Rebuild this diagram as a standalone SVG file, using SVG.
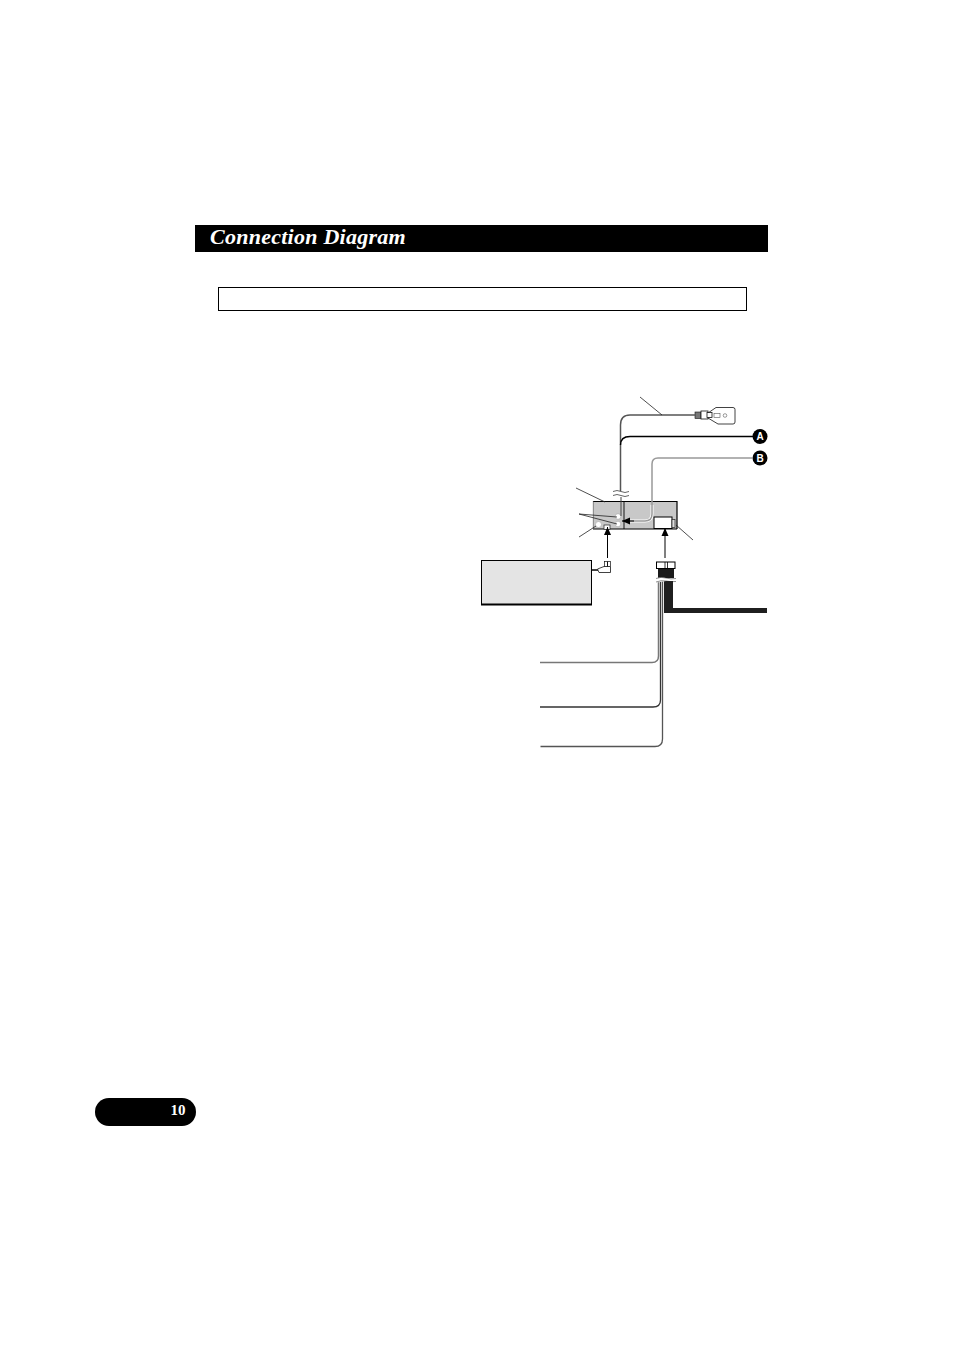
<svg xmlns="http://www.w3.org/2000/svg" width="954" height="1351" viewBox="0 0 954 1351">
<style>
.lead{fill:none;stroke:#222;stroke-width:.8}
.wire{fill:none;stroke-linecap:butt}
.badge{font:bold 10px "Liberation Sans",Arial,sans-serif;fill:#fff;text-anchor:middle}
.ln{stroke:#111;fill:#fff;stroke-width:.8}
</style>
<defs><marker id="ah" markerUnits="userSpaceOnUse" markerWidth="9" markerHeight="8" refX="8" refY="4" orient="auto"><path d="M0 .5L8 4L0 7.500Z" fill="#000"/></marker></defs>
<rect width="954" height="1351" fill="#fff"/>
<g id="header"><rect x="195" y="225" width="573" height="27" fill="#000"/>
<text x="210" y="244" font-family="Liberation Serif,serif" font-size="22" font-weight="bold" font-style="italic" letter-spacing=".25" fill="#fff">Connection Diagram</text></g>
<g id="notice"><rect x="218.500" y="287.500" width="528" height="23" fill="#fff" stroke="#000" stroke-width="1"/></g>
<g id="page"><rect x="95" y="1098" width="101" height="28" rx="14" fill="#000"/>
<text x="178" y="1115" font-family="Liberation Serif,serif" font-size="15" font-weight="bold" text-anchor="middle" fill="#fff">10</text></g>
<g id="head-unit">
<rect x="593" y="501" width="84" height="28" fill="#c8c8c8"/>
<path d="M593 501.500H677V529M593 529H677" fill="none" stroke="#000" stroke-width="1.200"/>
<path d="M593.300 501V529" stroke="#555" stroke-width=".6"/>
<path d="M624 501V529" stroke="#000" stroke-width=".9"/>
<rect x="654" y="517" width="18" height="11.500" fill="#fff" stroke="#000" stroke-width="1"/>
<rect x="672" y="519.500" width="3" height="8" fill="#ddd" stroke="#222" stroke-width=".7"/>
<circle cx="618" cy="516.500" r="2.800" fill="#fff" stroke="#999" stroke-width=".5"/>
<circle cx="618" cy="524" r="2.800" fill="#fff" stroke="#999" stroke-width=".5"/>
<circle cx="598.500" cy="524.500" r="3" fill="#fff" stroke="#999" stroke-width=".5"/>
<rect x="604" y="525" width="6" height="4.500" fill="#fff" stroke="#222" stroke-width=".7"/>
</g>
<g id="usb-connector">
<path d="M708 413L716 407.500H733Q735 407.500 735 409.500V422Q735 424 733 424H718L708 418Z" class="ln"/>
<rect x="695" y="412" width="6" height="6.500" fill="#777" stroke="#111" stroke-width=".6"/>
<rect x="701" y="411" width="7" height="8" class="ln"/>
<rect x="707" y="412.500" width="5" height="5" class="ln"/>
<rect x="714" y="413.500" width="6" height="4" fill="#fff" stroke="#555" stroke-width=".6"/>
<circle cx="725" cy="415.500" r="1.800" fill="#fff" stroke="#555" stroke-width=".6"/>
</g>
<g id="badge-a"><circle cx="760" cy="436.500" r="7.500" fill="#000"/><text class="badge" x="760" y="440">A</text></g>
<g id="badge-b"><circle cx="760" cy="458" r="7.500" fill="#000"/><text class="badge" x="760" y="461.500">B</text></g>
<g id="display-unit">
<rect x="481.500" y="560.500" width="110" height="44" fill="#e4e4e4" stroke="#000" stroke-width="1"/>
<path d="M481 604.500H592" stroke="#000" stroke-width="2"/>
<path d="M591 570H598" stroke="#000" stroke-width="1.500"/>
<path d="M597.500 569L604 566.500H610.500V572.500H599Z" class="ln"/>
<rect x="604.500" y="561.500" width="6" height="5" fill="#fff" stroke="#111" stroke-width=".7"/>
<path d="M607.500 561.500V566.500" stroke="#111" stroke-width="1"/>
</g>
<g id="harness">
<rect x="658" y="568" width="16" height="10" fill="#1a1a1a"/>
<path d="M664 581H673V608H767V613H664Z" fill="#1f1f1f"/>
<rect x="656.500" y="562" width="18.500" height="6.500" fill="#fff" stroke="#000" stroke-width="1"/>
<path d="M665 562V568.500M667.500 562V568.500" stroke="#000" stroke-width=".8"/>
</g>
<g id="connectors">
<path class="wire" d="M620.500 491V425Q620.500 415 630 415H695" stroke="#555" stroke-width="1.500"/>
<path class="wire" d="M620.500 445Q620.500 436.500 630 436.500H753" stroke="#000" stroke-width="1.400"/>
<path d="M652 505V514Q652 521 645 521H630" fill="none" stroke="#fff" stroke-width="3"/>
<path class="wire" d="M753 458H658Q652 458 652 464V514Q652 521 645 521H628" stroke="#999" stroke-width="1.500"/>
<path d="M621 497V516" stroke="#444" stroke-width="1"/>
<path d="M613 491.500Q617 489.500 621 491.500T629 491.500M613 495.500Q617 493.500 621 495.500T629 495.500" fill="none" stroke="#222" stroke-width=".7"/>
<path class="wire" d="M540 662.500H652Q658.500 662.500 658.500 656V581" stroke="#777" stroke-width="1.500"/>
<path class="wire" d="M540 707H653Q660.500 707 660.500 700V581" stroke="#333" stroke-width="1.300"/>
<path class="wire" d="M540.500 746.500H655Q662.500 746.500 662.500 739V581" stroke="#555" stroke-width="1.300"/>
<path d="M656 578.500Q661 576.500 666 578T676 578.500V581.500Q671 579.500 666 581T656 582Z" fill="#fff"/>
<path d="M656 578.500Q661 576.500 666 578T676 578.500M656 582Q661 580 666 581T676 581.500" fill="none" stroke="#222" stroke-width=".5"/>
<path class="wire" d="M607.500 558V527" stroke="#000" stroke-width="1" marker-end="url(#ah)"/>
<path class="wire" d="M665 558V528" stroke="#000" stroke-width="1" marker-end="url(#ah)"/>
<path class="wire" d="M634 521H622" stroke="#000" stroke-width="1" marker-end="url(#ah)"/>
<path class="lead" d="M640 397L662 415M576 488L605 502M579 514L617 517M579 514L617 524M579 537L596 526M676 525L693 540"/>
</g>
</svg>
